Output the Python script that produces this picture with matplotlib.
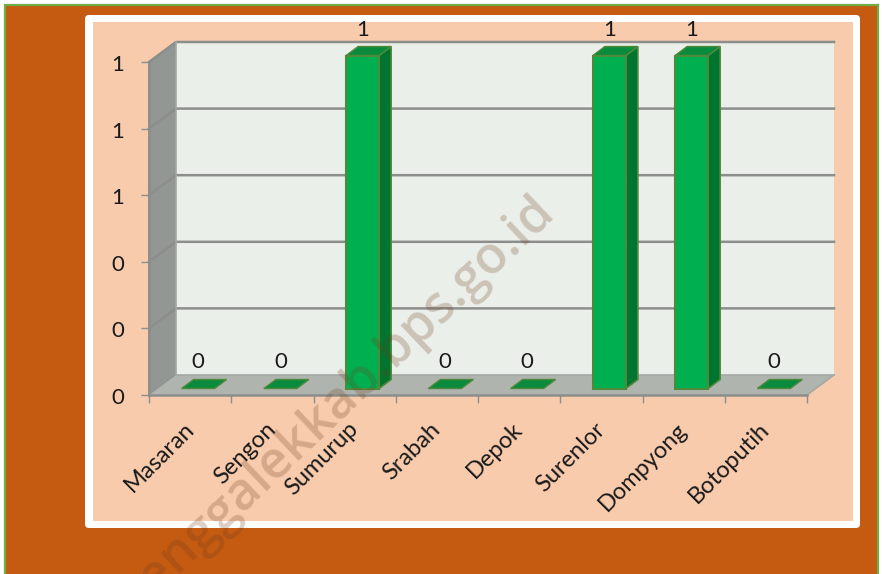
"""Village bar chart with a fake 3D look, drawn on a pixel-sized figure."""
import matplotlib
matplotlib.use("Agg")
import matplotlib.pyplot as plt
from matplotlib.patches import FancyBboxPatch, Polygon, Rectangle
from matplotlib.transforms import Affine2D

categories = ["Masaran", "Sengon", "Sumurup", "Srabah", "Depok", "Surenlor", "Dompyong", "Botoputih"]
values = [0, 0, 1, 0, 0, 1, 1, 0]
value_labels = ["0", "0", "1", "0", "0", "1", "1", "0"]
y_ticks = [0, 0.2, 0.4, 0.6, 0.8, 1.0]
y_tick_labels = ["0", "0", "0", "1", "1", "1"]

W, H = 882, 574
plt.rcParams["font.family"] = ["Lato", "DejaVu Sans"]
fig = plt.figure(figsize=(W / 100, H / 100), dpi=100, facecolor="white")

# background layers, in pixel coordinates
bg = fig.add_axes([0, 0, 1, 1], zorder=0)
bg.set_xlim(0, W)
bg.set_ylim(H, 0)
bg.axis("off")
bg.add_patch(Rectangle((5, 5), 873, 575, fc="#C55A11", ec="#70AD47", lw=1.6))
bg.add_patch(FancyBboxPatch((88, 18), 769, 507, boxstyle="round,pad=3,rounding_size=4", fc="white", ec="none"))
bg.add_patch(Rectangle((93, 22), 760, 499, fc="#F8CBAD", ec="none"))

# front plane of the chart box
L, R, B, T = 149, 807, 395, 62
ax = fig.add_axes([L / W, 1 - B / H, (R - L) / W, (B - T) / H], zorder=1)
ax.patch.set_visible(False)
ax.set_xlim(0, len(categories))
ax.set_ylim(0, 1)
px = len(categories) / (R - L)   # one pixel in data units
py = 1 / (B - T)
depth_x, depth_y = 27 * px, 20 * py

grid_c = "#8C8E8C"


def poly(pts, fc, ec="none", lw=0, z=2):
    ax.add_patch(Polygon(pts, closed=True, fc=fc, ec=ec, lw=lw, zorder=z, clip_on=False))


n = len(categories)
poly([(0, 0), (depth_x, depth_y), (depth_x, 1 + depth_y), (0, 1)], "#929794", grid_c, 1.2)
poly([(depth_x, depth_y), (n + depth_x, depth_y), (n + depth_x, 1 + depth_y), (depth_x, 1 + depth_y)], "#EBEFE9")
poly([(0, 0), (n, 0), (n + depth_x, depth_y), (depth_x, depth_y)], "#B0B4AE")

for t in y_ticks[1:]:
    ax.plot([0, depth_x, n + depth_x], [t, t + depth_y, t + depth_y], color=grid_c, lw=1.8,
            zorder=3, clip_on=False)
ax.plot([depth_x, depth_x], [depth_y, 1 + depth_y], color="#A5A9A6", lw=1.2, zorder=3, clip_on=False)
ax.plot([depth_x, n + depth_x], [depth_y, depth_y], color="#A5A9A6", lw=1.2, zorder=3, clip_on=False)
ax.plot([n, n + depth_x], [0, depth_y], color="#A5A9A6", lw=1.2, zorder=3, clip_on=False)

# bars: front face, right side and top
bar_w = 33 * px
off_x, off_y = 8 * px, 6.5 * py
bar_dx, bar_dy = 12 * px, 9 * py
edge = "#4F8A3C"
for i, v in enumerate(values):
    x0 = i + 0.5 + off_x - bar_w / 2
    x1 = x0 + bar_w
    y0 = off_y
    y1 = v + off_y
    if v > 0:
        poly([(x1, y0), (x1 + bar_dx, y0 + bar_dy), (x1 + bar_dx, y1 + bar_dy), (x1, y1)],
             "#00752F", edge, 1.2, 4)
        poly([(x0, y0), (x1, y0), (x1, y1), (x0, y1)], "#00B050", edge, 1.5, 5)
    poly([(x0, y1), (x1, y1), (x1 + bar_dx, y1 + bar_dy), (x0 + bar_dx, y1 + bar_dy)],
         "#0A8A3C", edge, 1.0, 5)
    ax.annotate(value_labels[i], (i + 0.5, v), xytext=(8 * 0.72, 32.5 * 0.72), textcoords="offset points",
                ha="center", va="center", fontsize=16, color="#1A1A1A", zorder=6, annotation_clip=False)

# axes
for side in ("top", "right"):
    ax.spines[side].set_visible(False)
for side in ("left", "bottom"):
    ax.spines[side].set_color(grid_c)
    ax.spines[side].set_linewidth(1.8)
    ax.spines[side].set_zorder(3)
ax.set_yticks(y_ticks, y_tick_labels, fontsize=16, color="#1A1A1A")
ax.tick_params(axis="y", length=6, width=1, color=grid_c, pad=12)
ax.set_xticks(range(n + 1), [""] * (n + 1))
ax.tick_params(axis="x", which="major", length=6, width=1, color=grid_c)
ax.set_xticks([i + 0.5 for i in range(n)], categories, minor=True, rotation=45, ha="right",
              rotation_mode="anchor", fontsize=17, color="#1A1A1A")
ax.tick_params(axis="x", which="minor", length=0, pad=17)
for lab in ax.get_xticklabels(minor=True):
    lab.set_transform(lab.get_transform() + Affine2D().translate(-7, 0))
for lab in ax.get_yticklabels():
    lab.set_transform(lab.get_transform() + Affine2D().translate(0, -1))

# watermark across the whole picture
wm = fig.text(530 / W, 1 - 188 / H, "trenggalekkab.bps.go.id", rotation=43.5, rotation_mode="anchor",
              ha="right", va="top", fontsize=37, color="#6E4022", alpha=0.25, zorder=10,
              family=["Open Sans"], fontweight="semibold")

fig.savefig("out.png", dpi=100)
